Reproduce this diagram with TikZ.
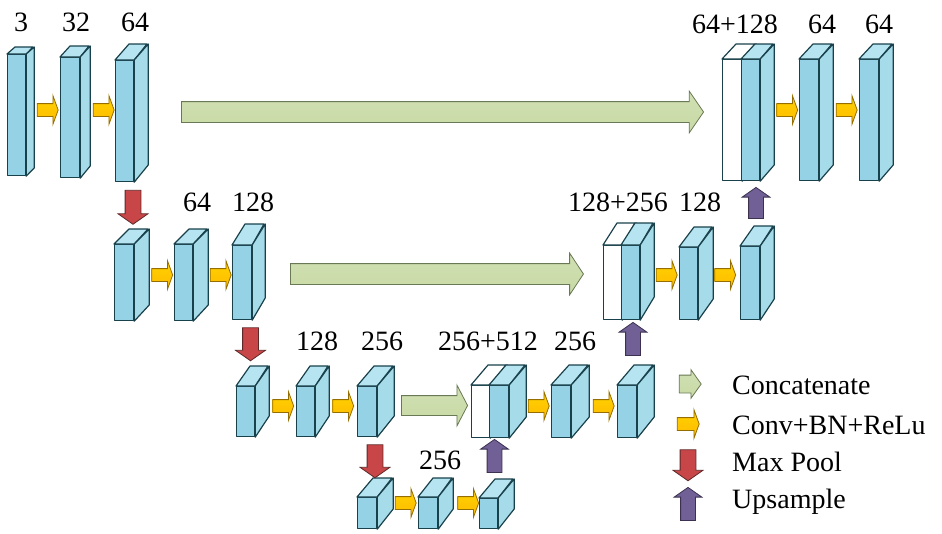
\documentclass[tikz,border=0pt]{standalone}
\usepackage{fontspec}
\setmainfont{Liberation Serif}
\newfontfamily\lblfont{Liberation Serif}
\usetikzlibrary{shapes.arrows}

\definecolor{cubefront}{RGB}{150,210,230}
\definecolor{cubetop}{RGB}{182,228,240}
\definecolor{cubeside}{RGB}{166,219,233}
\definecolor{cubeedge}{RGB}{25,65,75}
\definecolor{convfill}{RGB}{255,192,0}
\definecolor{convedge}{RGB}{150,110,0}
\definecolor{catfill}{RGB}{200,218,165}
\definecolor{catedge}{RGB}{105,120,85}
\definecolor{poolfill}{RGB}{200,70,72}
\definecolor{pooledge}{RGB}{95,40,40}
\definecolor{upfill}{RGB}{112,96,150}
\definecolor{upedge}{RGB}{60,50,80}

% cuboid: name, x, y (top left of front face), width, height, depth x, depth y, colour set
\newcommand{\layer}[8]{%
  \node[edge, #8 front, minimum width=#4, minimum height=#5, anchor=north west] (#1) at (#2,#3) {};
  \draw[edge, #8 top] (#1.north west) -- ++(#6,-#7) -- ++(#4,0) -- (#1.north east) -- cycle;
  \draw[edge, #8 side] (#1.north east) -- ++(#6,-#7) -- ++(0,#5) -- (#1.south east) -- cycle;
}

\begin{document}
\begin{tikzpicture}[x=1pt, y=-1pt,
    edge/.style={draw=cubeedge, line width=1.2pt, inner sep=0pt, line join=round},
    blue front/.style={fill=cubefront},
    blue top/.style={fill=cubetop},
    blue side/.style={fill=cubeside},
    white front/.style={fill=white},
    white top/.style={fill=white},
    white side/.style={fill=white},
    lbl/.style={font=\lblfont\fontsize{28}{30}\selectfont, inner sep=0pt},
    blockarrow/.style={single arrow, inner xsep=0pt, single arrow head indent=0pt, line width=0.8pt},
    conv/.style={blockarrow, draw=convedge, top color=convfill!70!yellow, bottom color=convfill!90!orange,
      minimum height=21, inner ysep=6pt, minimum width=28, single arrow head extend=8pt, single arrow tip angle=140},
    concat/.style={blockarrow, draw=catedge, top color=catfill!85!white, bottom color=catfill,
      inner ysep=10pt, minimum width=41, single arrow head extend=10.5pt, single arrow tip angle=111},
    pool/.style={blockarrow, draw=pooledge, fill=poolfill, rotate=-90,
      minimum height=34, inner ysep=7.5pt, minimum width=29, single arrow head extend=7pt, single arrow tip angle=110},
    up/.style={blockarrow, draw=upedge, fill=upfill, rotate=90,
      minimum height=32, inner ysep=7pt, minimum width=27, single arrow head extend=6.5pt, single arrow tip angle=110}
  ]
    \useasboundingbox (0,0) rectangle (942,533);

    % Encoder level 1
    \layer{a1}{7}{54}{18}{121}{8}{7}{blue}
    \layer{a2}{60}{57}{19}{120}{10}{11}{blue}
    \layer{a3}{115}{60}{18}{121}{14}{16}{blue}
    \node[lbl] (la1) at (21,22) {3};
    \node[lbl] (la2) at (76,22) {32};
    \node[lbl] (la3) at (135,22) {64};

    % Decoder level 1
    \layer{u1w}{722}{59}{19}{121}{14}{15}{white}
    \layer{u1}{741}{59}{18}{121}{14}{15}{blue}
    \layer{u2}{799}{59}{19}{121}{14}{15}{blue}
    \layer{u3}{859}{59}{19}{121}{14}{15}{blue}
    \node[lbl] (lu1) at (735,24) {64+128};
    \node[lbl] (lu2) at (822,24) {64};
    \node[lbl] (lu3) at (879,24) {64};

    % Encoder level 2
    \layer{b1}{114}{244}{19}{76}{15}{15}{blue}
    \layer{b2}{174}{244}{18}{76}{15}{15}{blue}
    \layer{b3}{232}{245}{19}{74}{13}{21}{blue}
    \node[lbl] (lb2) at (197,202) {64};
    \node[lbl] (lb3) at (253,202) {128};

    % Decoder level 2
    \layer{v1w}{603}{245}{18}{74}{14}{22}{white}
    \layer{v1}{621}{245}{18}{74}{14}{22}{blue}
    \layer{v2}{679}{247}{18}{72}{15}{20}{blue}
    \layer{v3}{740}{246}{19}{73}{14}{20}{blue}
    \node[lbl] (lv1) at (618,202) {128+256};
    \node[lbl] (lv2) at (700,202) {128};

    % Encoder level 3
    \layer{c1}{236}{386}{18}{50}{14}{20}{blue}
    \layer{c2}{296}{386}{18}{50}{14}{20}{blue}
    \layer{c3}{357}{386}{19}{50}{17}{20}{blue}
    \node[lbl] (lc2) at (317,341) {128};
    \node[lbl] (lc3) at (382,341) {256};

    % Decoder level 3
    \layer{w1w}{471}{385}{18}{52}{17}{20}{white}
    \layer{w1}{489}{385}{19}{52}{17}{20}{blue}
    \layer{w2}{551}{385}{19}{52}{18}{20}{blue}
    \layer{w3}{617}{385}{19}{52}{17}{20}{blue}
    \node[lbl] (lw1) at (488,341) {256+512};
    \node[lbl] (lw2) at (575,341) {256};

    % Bottleneck
    \layer{d1}{357}{497}{19}{31}{16}{19}{blue}
    \layer{d2}{418}{497}{19}{31}{15}{19}{blue}
    \layer{d3}{479}{498}{18}{30}{16}{19}{blue}
    \node[lbl] (ld2) at (440,460) {256};

    % Conv+BN+ReLu
    \node[conv] (ca1) at (46.5,110) {};
    \node[conv] (ca2) at (102.5,110) {};
    \node[conv] (cu1) at (786,110) {};
    \node[conv] (cu2) at (845.5,110) {};
    \node[conv] (cb1) at (161,275) {};
    \node[conv] (cb2) at (219.5,275) {};
    \node[conv] (cv1) at (665.5,275) {};
    \node[conv] (cv2) at (724,275) {};
    \node[conv] (cc1) at (282,406) {};
    \node[conv] (cc2) at (342,406) {};
    \node[conv] (cw1) at (537.5,406) {};
    \node[conv] (cw2) at (602.5,406) {};
    \node[conv] (cd1) at (404.5,503) {};
    \node[conv] (cd2) at (467,503) {};

    % Skip connections
    \node[concat, minimum height=522] (s1) at (439,112) {};
    \node[concat, minimum height=293, single arrow tip angle=113] (s2) at (433.5,274) {};
    \node[concat, minimum height=66, inner ysep=9.5pt, minimum width=39, single arrow tip angle=125] (s3) at (432,405.5) {};

    % Max pooling
    \node[pool] (p1) at (133,204.5) {};
    \node[pool, minimum height=33] (p2) at (250.5,341.5) {};
    \node[pool, minimum height=33] (p3) at (375,458.5) {};

    % Upsampling
    \node[up, minimum height=31] (q1) at (756,205.5) {};
    \node[up, minimum height=33] (q2) at (633,341.5) {};
    \node[up, minimum height=33] (q3) at (494.5,458.5) {};

    % Legend
    \node[concat, minimum height=22, inner ysep=8.5pt, minimum width=28, single arrow head extend=5.5pt, single arrow tip angle=109] (k1) at (687,384) {};
    \node[conv, minimum height=22] (k2) at (687,424) {};
    \node[pool, minimum height=31] (k3) at (688,462.5) {};
    \node[up, minimum height=33] (k4) at (688,506.5) {};
    \node[lbl, anchor=west] (t1) at (732,385) {Concatenate};
    \node[lbl, anchor=west] (t2) at (732,425) {Conv+BN+ReLu};
    \node[lbl, anchor=west] (t3) at (732,462) {Max Pool};
    \node[lbl, anchor=west] (t4) at (732,502) {Upsample};
\end{tikzpicture}
\end{document}
